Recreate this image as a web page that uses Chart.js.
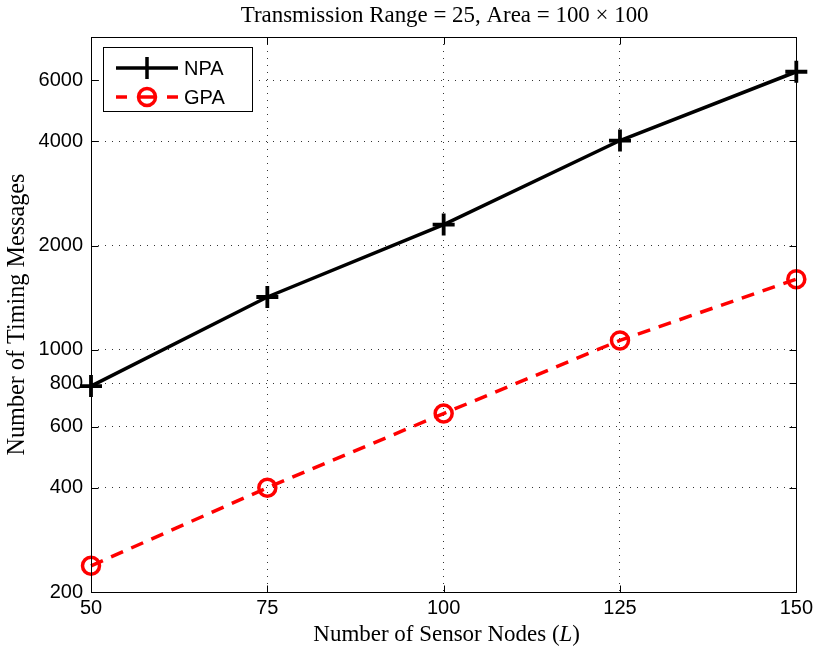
<!DOCTYPE html>
<html>
<head>
<meta charset="utf-8">
<script src="https://cdn.jsdelivr.net/npm/chart.js@4/dist/chart.umd.min.js"></script>
<style>
  html, body { margin: 0; padding: 0; background: #fff; }
  #wrap { width: 817px; height: 650px; }
</style>
</head>
<body>
<div id="wrap"><canvas id="c" width="817" height="650"></canvas></div>
<script>
// Timing messages needed vs. number of sensor nodes
const nodeCounts   = [50, 75, 100, 125, 150];
const npaMessages  = [786, 1421, 2300, 4020, 6350];
const gpaMessages  = [238, 400, 655, 1065, 1600];
const xTickValues  = [50, 75, 100, 125, 150];
const yTickValues  = [200, 400, 600, 800, 1000, 2000, 4000, 6000];
const seriesNames  = ['NPA', 'GPA'];
const titleText    = 'Transmission Range = 25, Area = 100 \u00d7 100';
const xLabelText   = 'Number of Sensor Nodes (';
const xLabelVar    = 'L';
const xLabelClose  = ')';
const yLabelText   = 'Number of Timing Messages';

const SANS  = '"Liberation Sans", Arial, sans-serif';
const SERIF = '"Liberation Serif", "DejaVu Serif", serif';
const RED = '#ff0000';

// choose a font size so that a string spans the wanted width
function fitFont(ctx, text, family, width) {
  ctx.font = '20px ' + family;
  const w = ctx.measureText(text).width;
  return 20 * width / w;
}

const decor = {
  id: 'decor',
  afterDraw(chart) {
    const ctx = chart.ctx;
    const a = chart.chartArea;
    const xs = chart.scales.x, ys = chart.scales.y;
    const L = Math.round(a.left) + 0.5, R = Math.round(a.right) + 0.5;
    const T = Math.round(a.top) + 0.5, B = Math.round(a.bottom) + 0.5;
    ctx.save();

    // inward tick marks on all four sides
    ctx.strokeStyle = '#000';
    ctx.lineWidth = 1;
    ctx.setLineDash([]);
    ctx.beginPath();
    yTickValues.forEach(v => {
      const y = Math.round(ys.getPixelForValue(v)) + 0.5;
      ctx.moveTo(L, y); ctx.lineTo(L + 7, y);
      ctx.moveTo(R, y); ctx.lineTo(R - 7, y);
    });
    xTickValues.forEach(v => {
      const x = Math.round(xs.getPixelForValue(v)) + 0.5;
      ctx.moveTo(x, B); ctx.lineTo(x, B - 7);
      ctx.moveTo(x, T); ctx.lineTo(x, T + 7);
    });
    ctx.stroke();

    // axes box
    ctx.strokeRect(L, T, R - L, B - T);

    // legend
    const lx = 103.5, ly = 47.5, lw = 149, lh = 64;
    ctx.fillStyle = '#fff';
    ctx.fillRect(lx, ly, lw, lh);
    ctx.strokeStyle = '#000';
    ctx.lineWidth = 1;
    ctx.strokeRect(lx, ly, lw, lh);

    const r1 = 68, r2 = 97, mx = 147;
    ctx.lineCap = 'butt';
    ctx.strokeStyle = '#000';
    ctx.lineWidth = 3.5;
    ctx.beginPath();
    ctx.moveTo(116, r1); ctx.lineTo(178, r1);
    ctx.moveTo(mx - 11, r1); ctx.lineTo(mx + 11, r1);
    ctx.moveTo(mx, r1 - 11); ctx.lineTo(mx, r1 + 11);
    ctx.stroke();

    ctx.strokeStyle = RED;
    ctx.beginPath();
    ctx.moveTo(116, r2); ctx.lineTo(127, r2);
    ctx.moveTo(mx - 7, r2); ctx.lineTo(mx + 7, r2);
    ctx.moveTo(167, r2); ctx.lineTo(178, r2);
    ctx.stroke();
    ctx.beginPath();
    ctx.arc(mx, r2, 8.5, 0, Math.PI * 2);
    ctx.stroke();

    ctx.fillStyle = '#000';
    ctx.font = '20px ' + SANS;
    ctx.textAlign = 'left';
    ctx.textBaseline = 'middle';
    ctx.fillText(seriesNames[0], 184, r1 + 1);
    ctx.fillText(seriesNames[1], 184, r2 + 1);

    // title
    const cx = (a.left + a.right) / 2;
    let fs = fitFont(ctx, titleText, SERIF, 408);
    ctx.font = fs + 'px ' + SERIF;
    ctx.textAlign = 'center';
    ctx.textBaseline = 'middle';
    ctx.fillText(titleText, cx + 1, 16);

    // x axis label with italic variable
    fs = fitFont(ctx, xLabelText + xLabelVar + xLabelClose, SERIF, 268);
    const fUp = fs + 'px ' + SERIF, fIt = 'italic ' + fs + 'px ' + SERIF;
    ctx.font = fUp;
    const w1 = ctx.measureText(xLabelText).width;
    const w3 = ctx.measureText(xLabelClose).width;
    ctx.font = fIt;
    const w2 = ctx.measureText(xLabelVar).width;
    const x0 = cx + 3 - (w1 + w2 + w3) / 2;
    ctx.textAlign = 'left';
    ctx.font = fUp; ctx.fillText(xLabelText, x0, 635);
    ctx.font = fIt; ctx.fillText(xLabelVar, x0 + w1, 635);
    ctx.font = fUp; ctx.fillText(xLabelClose, x0 + w1 + w2, 635);

    // y axis label
    fs = fitFont(ctx, yLabelText, SERIF, 282);
    ctx.font = fs + 'px ' + SERIF;
    ctx.translate(18, (a.top + a.bottom) / 2);
    ctx.rotate(-Math.PI / 2);
    ctx.textAlign = 'center';
    ctx.fillText(yLabelText, 0, 0);
    ctx.restore();
  }
};

new Chart(document.getElementById('c'), {
  type: 'line',
  data: {
    datasets: [
      {
        label: seriesNames[0],
        data: nodeCounts.map((n, i) => ({ x: n, y: npaMessages[i] })),
        borderColor: '#000',
        borderWidth: 3.5,
        pointStyle: 'cross',
        pointRadius: 11,
        pointBorderWidth: 3.8,
        pointBorderColor: '#000',
        pointBackgroundColor: 'transparent',
        tension: 0,
        clip: false
      },
      {
        label: seriesNames[1],
        data: nodeCounts.map((n, i) => ({ x: n, y: gpaMessages[i] })),
        borderColor: RED,
        borderWidth: 3.5,
        borderDash: [13, 9],
        pointStyle: 'circle',
        pointRadius: 8.5,
        pointBorderWidth: 3.5,
        pointBorderColor: RED,
        pointBackgroundColor: 'transparent',
        tension: 0,
        clip: false
      }
    ]
  },
  options: {
    responsive: false,
    devicePixelRatio: 1,
    animation: false,
    events: [],
    layout: { padding: { left: 0, right: 20, top: 37, bottom: 0 } },
    plugins: { legend: { display: false }, title: { display: false }, tooltip: { enabled: false } },
    scales: {
      x: {
        type: 'linear',
        min: 50, max: 150,
        afterBuildTicks: s => { s.ticks = xTickValues.map(v => ({ value: v })); },
        afterFit: s => { s.height = 58; },
        ticks: { color: '#000', font: { family: SANS, size: 20 }, padding: 4, maxRotation: 0, callback: v => String(v) },
        grid: { color: 'rgba(0,0,0,0.8)', lineWidth: 1, drawTicks: false },
        border: { display: false, dash: [1, 6] }
      },
      y: {
        type: 'logarithmic',
        min: 200, max: 8000,
        afterBuildTicks: s => { s.ticks = yTickValues.map(v => ({ value: v })); },
        afterFit: s => { s.width = 91; },
        ticks: { color: '#000', font: { family: SANS, size: 20 }, padding: 8, callback: v => String(v) },
        grid: { color: 'rgba(0,0,0,0.8)', lineWidth: 1, drawTicks: false },
        border: { display: false, dash: [1, 6] }
      }
    }
  },
  plugins: [decor]
});
</script>
</body>
</html>
